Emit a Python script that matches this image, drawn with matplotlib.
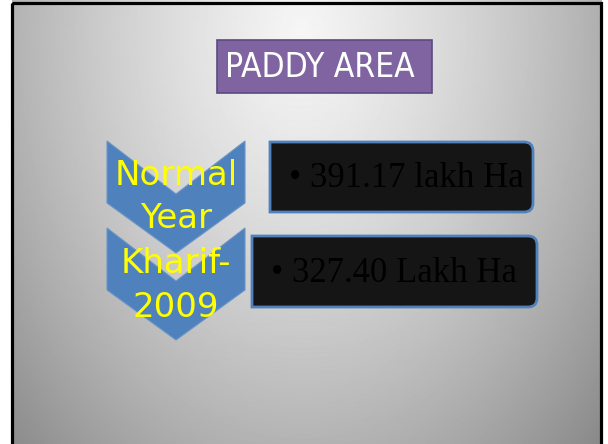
import numpy as np
import matplotlib.pyplot as plt
from matplotlib.patches import Polygon, Rectangle, PathPatch
from matplotlib.path import Path

# slide content
title = "PADDY AREA"
categories = [["Normal", "Year"], ["Kharif-", "2009"]]
values = [391.17, 327.40]
units = ["lakh Ha", "Lakh Ha"]

W, H = 608, 444
fig = plt.figure(figsize=(W / 100, H / 100), dpi=100)
ax = fig.add_axes([0, 0, 1, 1])
ax.set_xlim(0, W)
ax.set_ylim(H, 0)
ax.axis("off")

# radial grey background inside the slide frame
yy, xx = np.mgrid[0:H, 0:W] + 0.5
d = np.sqrt((xx - 302) ** 2 + (0.7 * (yy - 35)) ** 2)
bg = np.clip(246 - 0.167 * d - 0.000232 * d ** 2, 0, 255) / 255.0
bg[:, :12] = 1.0
bg[:, 602:] = 1.0
ax.imshow(bg, cmap="gray", vmin=0, vmax=1, extent=(0, W, H, 0), zorder=0,
          interpolation="bilinear")
ax.add_patch(Rectangle((12, 3), 589, 460, fill=False, ec="black", lw=2.3,
                       zorder=1))

# title box
ax.add_patch(Rectangle((217, 40), 215, 53, fc="#8064a2", ec="#5c4a80", lw=1.2,
                       zorder=2))
ax.text(225, 77, title, color="white", fontsize=24, va="baseline",
        ha="left", family="DejaVu Sans", fontstretch="condensed", zorder=3)


def chevron(top, left=107, right=245):
    mid = (left + right) / 2
    pts = [(left, top), (mid, top + 53), (right, top), (right, top + 62),
           (mid, top + 112), (left, top + 62)]
    return Polygon(pts, closed=True, fc="#4f81bd", ec="#6a95c8", lw=0.8,
                   zorder=2)


def value_box(x0, y0, x1, y1, r=9):
    verts = [(x0, y0), (x1 - r, y0), (x1, y0), (x1, y0 + r), (x1, y1 - r),
             (x1, y1), (x1 - r, y1), (x0, y1), (x0, y0)]
    codes = [Path.MOVETO, Path.LINETO, Path.CURVE3, Path.CURVE3, Path.LINETO,
             Path.CURVE3, Path.CURVE3, Path.LINETO, Path.CLOSEPOLY]
    return PathPatch(Path(verts, codes), fc="#151515", ec="#4f81bd", lw=2.0,
                     zorder=2)


chev_tops = [141, 228]
line_base = [[185, 228], [273, 317]]
boxes = [(270, 142, 533, 212), (252, 236, 537, 307)]

for i in range(len(values)):
    ax.add_patch(chevron(chev_tops[i]))
    for j, word in enumerate(categories[i]):
        ax.text(176, line_base[i][j], word, color="#ffff00", fontsize=24.5,
                ha="center", va="baseline", family="DejaVu Sans", zorder=4)
    x0, y0, x1, y1 = boxes[i]
    ax.add_patch(value_box(x0, y0, x1, y1))
    ax.text(x0 + 19, (y0 + y1) / 2 + 10, "\u2022 " + f"{values[i]:.2f} " + units[i],
            color="black", fontsize=25, ha="left", va="baseline",
            family="Liberation Serif", zorder=4)

fig.savefig("out.png", dpi=100)
